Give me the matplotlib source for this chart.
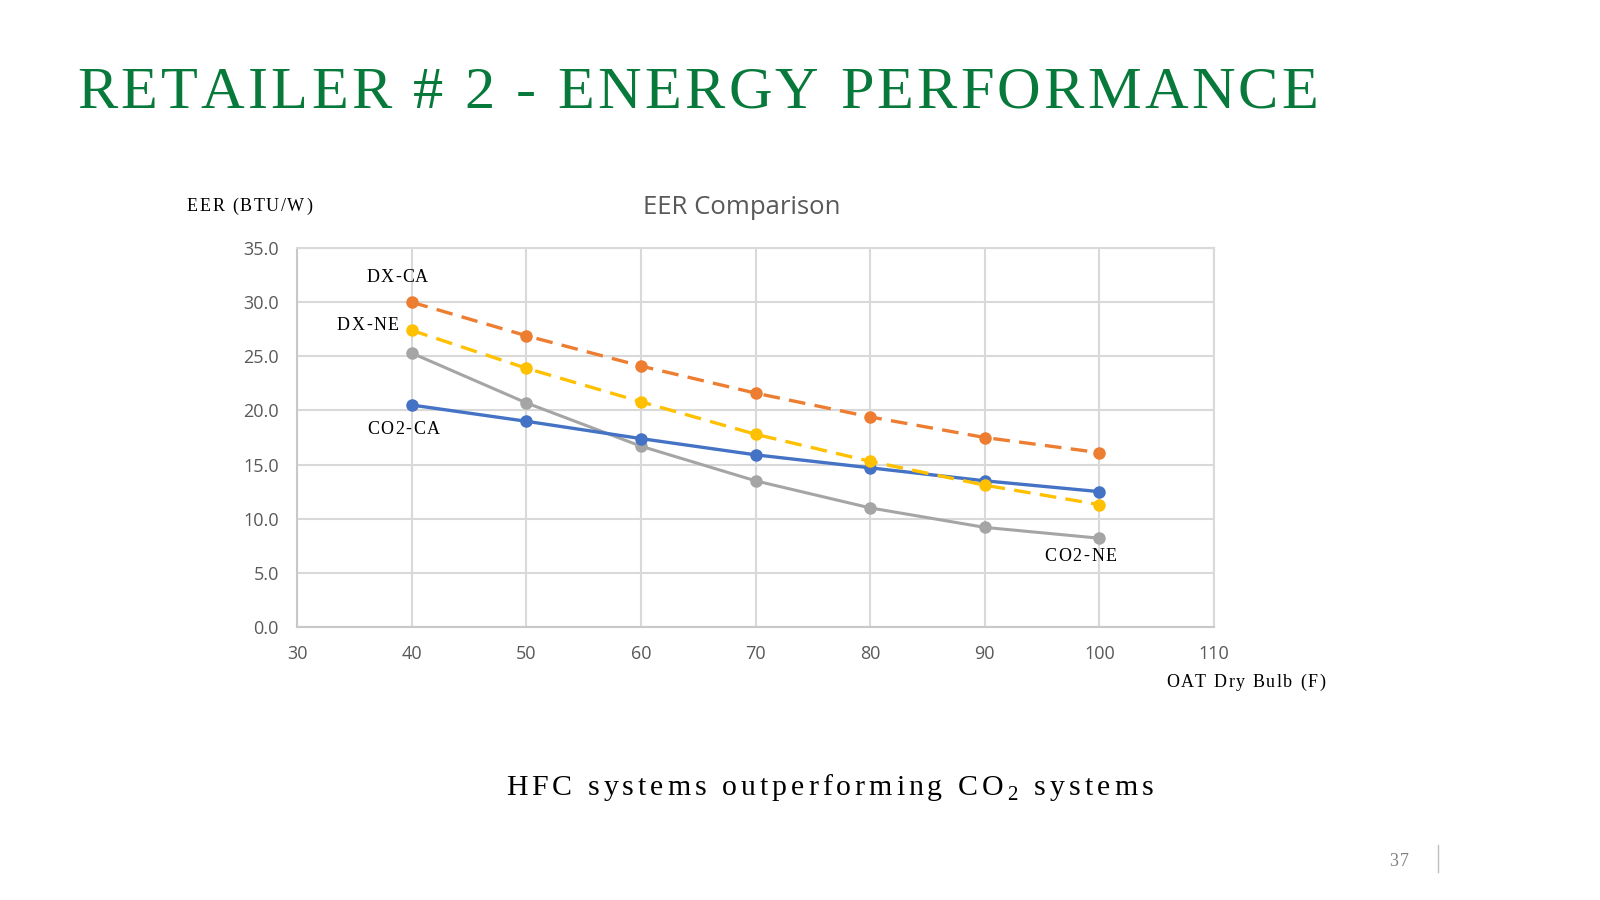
import matplotlib
matplotlib.use("Agg")
import matplotlib.pyplot as plt

temps = [40, 50, 60, 70, 80, 90, 100]
dx_ca = [30.0, 26.9, 24.1, 21.6, 19.4, 17.5, 16.1]
dx_ne = [27.4, 23.9, 20.8, 17.8, 15.3, 13.1, 11.3]
co2_ca = [20.5, 19.0, 17.4, 15.9, 14.7, 13.5, 12.5]
co2_ne = [25.3, 20.7, 16.7, 13.5, 11.0, 9.2, 8.2]

x_ticks = [30, 40, 50, 60, 70, 80, 90, 100, 110]
y_ticks = [0, 5, 10, 15, 20, 25, 30, 35]

plt.rcParams['mathtext.fontset'] = 'custom'
plt.rcParams['mathtext.rm'] = 'Liberation Serif'

serif = 'Liberation Serif'
green = '#07793A'
tick_grey = '#595959'
W, H = 1600, 900

fig = plt.figure(figsize=(16, 9), dpi=100)
renderer = fig.canvas.get_renderer()


def spaced_text(tokens, x0, x1, base, size, color='black'):
    # slide text is letter-spaced, so lay out glyph by glyph between x0 and x1
    space = 0.25 * size * 100 / 72
    items = []
    total = 0
    for tok in tokens:
        if tok == ' ':
            items.append((None, space))
            total += space
            continue
        t = fig.text(0, 1 - base / H, tok, fontsize=size, family=serif,
                     color=color, va='baseline', ha='left')
        w = t.get_window_extent(renderer).width
        items.append((t, w))
        total += w
    gap = (x1 - x0 - total) / max(len(items) - 1, 1)
    x = x0
    for t, w in items:
        if t is not None:
            t.set_x(x / W)
        x += w + gap


ax = fig.add_axes([297 / W, 1 - 627 / H, (1214 - 297) / W, (627 - 248) / H])

ax.plot(temps, co2_ne, color='#A5A5A5', lw=2.2, marker='o', ms=8, zorder=3)
ax.plot(temps, co2_ca, color='#4472C4', lw=2.4, marker='o', ms=8, zorder=4)
ax.plot(temps, dx_ne, color='#FFC000', lw=2.4, marker='o', ms=8,
        dashes=(5, 2.8), zorder=5)
ax.plot(temps, dx_ca, color='#ED7D31', lw=2.4, marker='o', ms=8,
        dashes=(5, 2.8), zorder=5)

ax.set_xlim(30, 110)
ax.set_ylim(0, 35)
ax.set_xticks(x_ticks)
ax.set_yticks(y_ticks)
ax.set_yticklabels([f'{v:.1f}' for v in y_ticks])
ax.grid(True, color='#D9D9D9', lw=1.5)
ax.set_axisbelow(True)
for side in ['top', 'right']:
    ax.spines[side].set_color('#D9D9D9')
    ax.spines[side].set_linewidth(1.5)
for side in ['left', 'bottom']:
    ax.spines[side].set_color('#C8C8C8')
    ax.spines[side].set_linewidth(1.5)
ax.tick_params(length=0, labelsize=13, labelcolor=tick_grey, pad=13)
for lab in ax.get_xticklabels() + ax.get_yticklabels():
    lab.set_fontfamily('Open Sans')

fig.text(742 / W, 1 - 207 / H, 'EER Comparison', fontsize=18.5, color=tick_grey,
         family='Open Sans', ha='center', va='center')

# series labels
spaced_text(list('DX-CA'), 367, 428, 282, 13)
spaced_text(list('DX-NE'), 337, 399, 330, 13)
spaced_text(list('CO2-CA'), 367, 440, 434, 13)
spaced_text(list('CO2-NE'), 1044, 1117, 561, 13)

spaced_text(list('EER (BTU/W)'), 187, 312, 211, 13)
spaced_text(list('OAT Dry Bulb (F)'), 1166, 1325, 687, 13)

spaced_text(list('RETAILER # 2 - ENERGY PERFORMANCE'), 77, 1318, 108, 43.5,
            color=green)

spaced_text(list('HFC systems outperforming CO') + ['$_2$'] + list(' systems'),
            506, 1153, 795, 21.5)

spaced_text(list('37'), 1389, 1409, 866, 13, color='#808080')
fig.add_artist(plt.Line2D([1438 / W, 1438 / W], [1 - 872 / H, 1 - 845 / H],
                          color='#BFBFBF', lw=1))

fig.savefig('out.png', dpi=100)
